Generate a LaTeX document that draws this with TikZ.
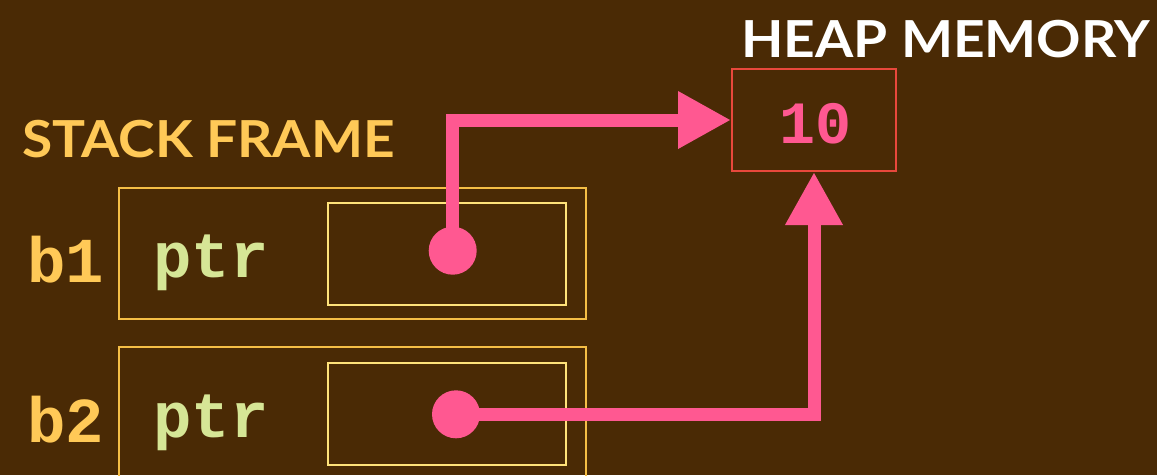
\documentclass[tikz,border=0pt]{standalone}
\usepackage{fontspec}
\setmainfont{Lato}
\setmonofont{Liberation Mono}
\newfontfamily\titlefont[FakeStretch=1.08]{Lato}
\usetikzlibrary{arrows.meta}
\definecolor{bg}{RGB}{74,42,5}
\definecolor{lab}{RGB}{255,201,87}
\definecolor{outerc}{RGB}{245,190,70}
\definecolor{innerc}{RGB}{255,226,122}
\definecolor{ptrc}{RGB}{214,230,150}
\definecolor{pinkc}{RGB}{255,88,145}
\definecolor{heapc}{RGB}{232,72,60}
\tikzset{
  outerbox/.style={draw=outerc,line width=2pt,minimum width=467pt,minimum height=131.5pt,inner sep=0pt},
  innerbox/.style={draw=innerc,line width=2pt,minimum width=238pt,minimum height=101.5pt,inner sep=0pt},
  heapbox/.style={draw=heapc,line width=2pt,minimum width=164pt,minimum height=102pt,inner sep=0pt},
  dot/.style={circle,fill=pinkc,minimum size=48pt,inner sep=0pt},
  ptrline/.style={draw=pinkc,line width=13pt},
  ptrarrow/.style={ptrline,-{Triangle[length=53pt,width=54pt]}},
  title/.style={anchor=base west,inner sep=0pt,font=\titlefont\fontsize{51}{60}\selectfont\bfseries},
  varname/.style={anchor=base west,inner sep=0pt,text=lab,font=\fontsize{64}{70}\selectfont\ttfamily\bfseries},
  fieldname/.style={anchor=base west,inner sep=0pt,text=ptrc,font=\fontsize{64}{70}\selectfont\ttfamily\bfseries},
}
\begin{document}
\begin{tikzpicture}[x=1pt,y=-1pt]
\fill[bg] (0,0) rectangle (1157,475);
\useasboundingbox (0,0) rectangle (1157,475);
\begin{scope}
\clip (0,0) rectangle (1157,475);
% titles
\node[title,text=lab] (stack) at (22,157) {STACK FRAME};
\node[title,text=white] (heapt) at (741,57) {HEAP MEMORY};
% stack boxes
\node[outerbox] (o1) at (352.5,253.25) {};
\node[innerbox] (i1) at (447,253.8) {};
\node[outerbox] (o2) at (352.5,412.8) {};
\node[innerbox] (i2) at (447,413.75) {};
\node[varname] (b1) at (27,282) {b1};
\node[varname] (b2) at (27,442) {b2};
\node[fieldname] (p1) at (153,277) {ptr};
\node[fieldname] (p2) at (153,437) {ptr};
% heap
\node[heapbox] (heap) at (814,120) {};
\node[anchor=base,inner sep=0pt,text=pinkc,font=\fontsize{60}{66}\selectfont\ttfamily\bfseries] (ten) at (815,143) {10};
% pointers
\node[dot] (d1) at (452.7,250.7) {};
\node[dot] (d2) at (456,414.3) {};
\draw[ptrarrow] (d1.center) |- (heap.west);
\draw[ptrarrow] (d2.center) -| (heap.south);
\end{scope}
\end{tikzpicture}
\end{document}
